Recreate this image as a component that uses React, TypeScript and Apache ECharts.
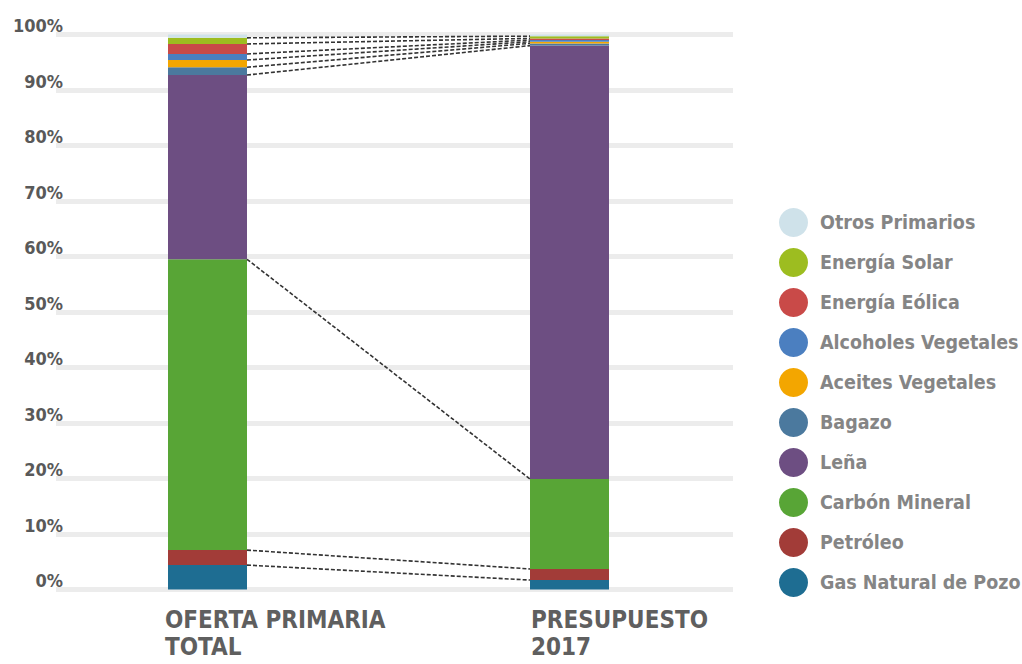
import React, { useEffect, useRef } from 'react';
import * as echarts from 'echarts';

const categories = ['OFERTA PRIMARIA\nTOTAL', 'PRESUPUESTO\n2017'];

// Shares (%) per category: [Oferta Primaria Total, Presupuesto 2017]
const gasNatural = [4.4, 1.7];
const petroleo = [2.7, 2.0];
const carbonMineral = [52.4, 16.2];
const lena = [33.2, 78.1];
const bagazo = [1.4, 0.4];
const aceitesVegetales = [1.3, 0.3];
const alcoholesVegetales = [1.1, 0.3];
const energiaEolica = [1.8, 0.3];
const energiaSolar = [1.1, 0.4];
const otrosPrimarios = [0.6, 0.3];

const seriesNames = [
  'Gas Natural de Pozo',
  'Petróleo',
  'Carbón Mineral',
  'Leña',
  'Bagazo',
  'Aceites Vegetales',
  'Alcoholes Vegetales',
  'Energía Eólica',
  'Energía Solar',
  'Otros Primarios',
];
const seriesValues = [
  gasNatural,
  petroleo,
  carbonMineral,
  lena,
  bagazo,
  aceitesVegetales,
  alcoholesVegetales,
  energiaEolica,
  energiaSolar,
  otrosPrimarios,
];
const seriesColors = [
  '#1e6d92',
  '#a23c38',
  '#58a536',
  '#6d4e82',
  '#4b799e',
  '#f3a600',
  '#4b7fc0',
  '#c94a48',
  '#9dbd20',
  '#cfe2ea',
];

const FONT = "'DejaVu Sans Condensed', 'DejaVu Sans', sans-serif";
const BAR_W = 79;

export default function App() {
  const ref = useRef<HTMLDivElement>(null);

  useEffect(() => {
    document.body.style.margin = '0';
    if (!ref.current) return;
    const chart = echarts.init(ref.current, undefined, { renderer: 'svg' });

    // cumulative boundaries for connector lines (all but the top 100%)
    const connectors: number[][] = [];
    const cum = [0, 0];
    for (let i = 0; i < seriesValues.length - 1; i++) {
      cum[0] += seriesValues[i][0];
      cum[1] += seriesValues[i][1];
      connectors.push([0, +cum[0].toFixed(3), +cum[1].toFixed(3)]);
    }

    const barSeries = seriesNames.map((name, i) => ({
      name,
      type: 'bar',
      stack: 'total',
      xAxisIndex: 1,
      yAxisIndex: 1,
      barWidth: BAR_W,
      itemStyle: { color: seriesColors[i] },
      data: seriesValues[i],
      z: 3,
    }));

    const option: any = {
      animation: false,
      backgroundColor: '#ffffff',
      grid: [
        { left: 56, right: 289, top: 34.5, bottom: 74.5 },
        { left: 26.5, width: 724, top: 34.5, bottom: 74.5 },
        { left: 165, width: 366, top: 34.5, bottom: 74.5 },
      ],
      xAxis: [
        { gridIndex: 0, type: 'value', show: false, min: 0, max: 1 },
        {
          gridIndex: 1,
          type: 'category',
          data: categories,
          axisLine: { show: false },
          axisTick: { show: false },
          axisLabel: { show: false },
        },
        {
          gridIndex: 2,
          type: 'category',
          data: categories,
          boundaryGap: false,
          axisLine: { show: false },
          axisTick: { show: false },
          axisLabel: {
            show: true,
            align: 'left',
            verticalAlign: 'top',
            margin: 17,
            interval: 0,
            fontFamily: FONT,
            fontWeight: 'bold',
            fontSize: 24,
            lineHeight: 27,
            color: '#5f5f5f',
          },
        },
      ],
      yAxis: [
        {
          gridIndex: 0,
          type: 'value',
          min: 0,
          max: 100,
          interval: 10,
          axisLine: { show: false },
          axisTick: { show: false },
          splitLine: { show: true, lineStyle: { color: '#ececec', width: 5 } },
          axisLabel: {
            formatter: '{value}%',
            fontFamily: FONT,
            fontWeight: 'bold',
            fontSize: 18,
            lineHeight: 18,
            color: '#595959',
            margin: -7,
            verticalAlign: 'bottom',
          },
        },
        { gridIndex: 1, type: 'value', min: 0, max: 100, show: false },
        { gridIndex: 2, type: 'value', min: 0, max: 100, show: false },
      ],
      legend: {
        orient: 'vertical',
        left: 779,
        top: 208,
        padding: 0,
        icon: 'circle',
        itemWidth: 29,
        itemHeight: 29,
        itemGap: 11,
        data: [...seriesNames].reverse(),
        textStyle: {
          fontFamily: FONT,
          fontWeight: 'bold',
          fontSize: 19.5,
          color: '#858585',
          padding: [0, 0, 0, 7],
        },
        selectedMode: false,
      },
      series: [
        ...barSeries,
        {
          type: 'custom',
          xAxisIndex: 1,
          yAxisIndex: 1,
          encode: { x: 0, y: 1 },
          z: 4,
          silent: true,
          data: connectors,
          renderItem: (_params: any, api: any) => {
            const a = api.coord([0, api.value(1)]);
            const b = api.coord([1, api.value(2)]);
            return {
              type: 'line',
              shape: { x1: a[0] + BAR_W / 2, y1: a[1], x2: b[0] - BAR_W / 2, y2: b[1] },
              style: { stroke: '#333333', lineWidth: 1.6, lineDash: [4, 2], fill: null },
            };
          },
        },
      ],
    };

    chart.setOption(option);
    return () => chart.dispose();
  }, []);

  return <div ref={ref} style={{ width: 1022, height: 664 }} />;
}
